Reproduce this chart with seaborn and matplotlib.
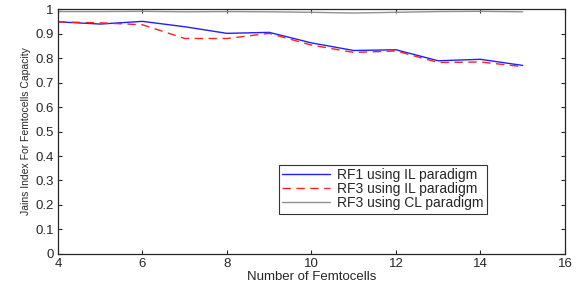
"""Jain's index vs number of femtocells (seaborn re-draw)."""

import matplotlib

matplotlib.use("Agg")
import matplotlib.pyplot as plt
import pandas as pd
import seaborn as sns

femtocells = list(range(4, 16))
rf1_il = [0.948, 0.939, 0.950, 0.928, 0.901, 0.905, 0.862, 0.831, 0.834, 0.789, 0.795, 0.770]
rf3_il = [0.948, 0.944, 0.936, 0.880, 0.880, 0.901, 0.853, 0.823, 0.829, 0.782, 0.784, 0.765]
rf3_cl = [0.990, 0.990, 0.991, 0.989, 0.990, 0.989, 0.987, 0.984, 0.987, 0.990, 0.991, 0.989]

series_names = ["RF1 using IL paradigm", "RF3 using IL paradigm", "RF3 using CL paradigm"]
series_colors = ["#2020ff", "#ff2020", "#909090"]

df = pd.concat(
    [
        pd.DataFrame({"x": femtocells, "y": vals, "series": name})
        for name, vals in zip(series_names, [rf1_il, rf3_il, rf3_cl])
    ]
)

sns.set_style("ticks")
plt.rcParams["font.family"] = ["Liberation Sans", "DejaVu Sans"]

fig = plt.figure(figsize=(5.86, 2.85), dpi=100)
ax = fig.add_axes([0.099, 0.109, 0.865, 0.859])

sns.lineplot(
    data=df,
    x="x",
    y="y",
    hue="series",
    style="series",
    palette=dict(zip(series_names, series_colors)),
    dashes={series_names[0]: "", series_names[1]: (6, 4), series_names[2]: ""},
    linewidth=1.0,
    ax=ax,
)

ax.set_xlim(4, 16)
ax.set_ylim(0, 1)
ax.set_xticks(range(4, 17, 2))
ax.set_yticks([i / 10 for i in range(11)])
ax.set_yticklabels(["0"] + [f"{i / 10:.1f}" for i in range(1, 10)] + ["1"])
ax.tick_params(direction="in", length=3, width=0.8, labelsize=9.5, top=True, right=True, pad=3)
for s in ax.spines.values():
    s.set_linewidth(0.9)
    s.set_visible(True)

ax.set_xlabel("Number of Femtocells", fontsize=9.5, labelpad=1)
ax.set_ylabel("Jains Index For Femtocells Capacity", fontsize=7.5, labelpad=3)

leg = ax.legend(
    loc="lower left",
    bbox_to_anchor=(0.436, 0.165),
    fontsize=10,
    frameon=True,
    fancybox=False,
    edgecolor="black",
    borderpad=0.25,
    labelspacing=0.0,
    handlelength=3.4,
    handletextpad=0.5,
    borderaxespad=0,
)
leg.get_frame().set_linewidth(0.8)

fig.savefig("out.png", dpi=100)
